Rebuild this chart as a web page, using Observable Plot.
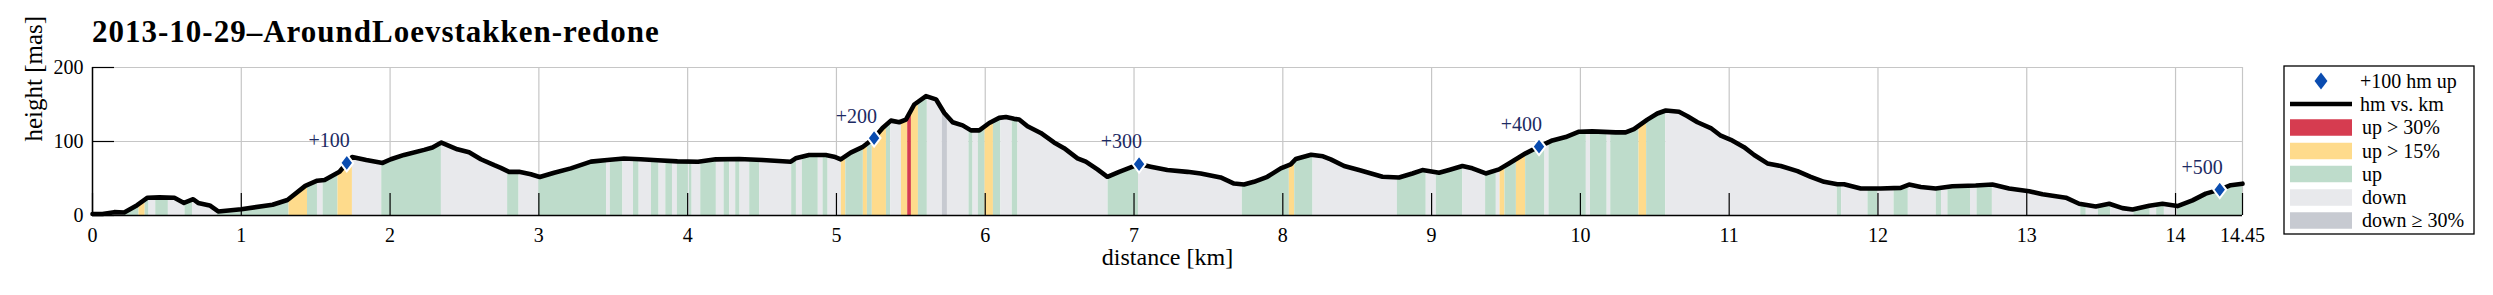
<!DOCTYPE html>
<html>
<head>
<meta charset="utf-8">
<script src="https://cdn.jsdelivr.net/npm/d3@7"></script>
<script src="https://cdn.jsdelivr.net/npm/@observablehq/plot@0.6"></script>
<style>
  html, body { margin: 0; padding: 0; background: white; }
  #wrap { position: relative; width: 2493px; height: 295px; overflow: hidden; }
  #wrap > svg { position: absolute; left: 0; top: 0; }
  #wrap svg text { font-family: "Liberation Serif", "Times New Roman", serif !important; }
</style>
</head>
<body>
<div id="wrap"></div>
<script>
// ---------------- data ----------------
const titleText = "2013-10-29\u2013AroundLoevstakken-redone";
const totalKm = 14.45;

const distKm = [0, 0.067, 0.146, 0.213, 0.30, 0.37, 0.45, 0.55, 0.615, 0.677, 0.71, 0.788, 0.845, 1.0, 1.21, 1.31, 1.43, 1.51, 1.56, 1.66, 1.71, 1.745, 1.84, 1.95,
  2.005, 2.094, 2.229, 2.285, 2.345, 2.452, 2.531, 2.61, 2.70, 2.744, 2.80, 2.867, 2.946, 3.006, 3.103, 3.215, 3.35, 3.46, 3.572, 3.684, 3.797, 3.931,
  4.07, 4.189, 4.346, 4.502, 4.693, 4.726, 4.816, 4.928, 4.984, 5.029, 5.096, 5.174, 5.253, 5.31, 5.366, 5.422, 5.467, 5.523, 5.602, 5.669, 5.725, 5.781, 5.848, 5.904, 5.96,
  6.027, 6.094, 6.139, 6.194, 6.228, 6.284, 6.373, 6.462, 6.53, 6.62, 6.676, 6.754, 6.821, 6.90, 6.978, 7.034, 7.112, 7.224, 7.359, 7.448, 7.582, 7.672, 7.739, 7.806, 7.896, 7.986,
  8.053, 8.087, 8.19, 8.27, 8.322, 8.412, 8.512, 8.67, 8.781, 8.871, 8.938, 9.05, 9.117, 9.207, 9.274, 9.364, 9.453, 9.52, 9.632, 9.722, 9.812, 9.901, 9.991,
  10.08, 10.237, 10.304, 10.36, 10.45, 10.517, 10.574, 10.663, 10.72, 10.787, 10.876, 10.944, 11.011, 11.10, 11.168, 11.257, 11.347, 11.459, 11.548, 11.638, 11.727, 11.772, 11.884,
  12.018, 12.153, 12.209, 12.288, 12.388, 12.50, 12.657, 12.769, 12.881, 13.016, 13.106, 13.263, 13.352, 13.464, 13.554, 13.643, 13.711, 13.823, 13.912,
  14.013, 14.114, 14.203, 14.297, 14.371, 14.45];
const elevM = [2, 2, 4.5, 4, 14, 24, 24.5, 24, 17, 22, 17, 13.6, 5.5, 8.5, 14.5, 21, 40, 47, 48, 59, 71, 79, 75, 71,
  76, 81.9, 88.7, 91.9, 98.6, 89.5, 85.4, 76, 68, 64.4, 59, 59, 55.7, 52, 57.8, 63.7, 72.8, 75, 77, 76, 74.6, 73.2,
  72.7, 75.9, 76.3, 75, 72.7, 77.3, 81.8, 81.8, 79.5, 75.9, 85, 92.3, 104.6, 118.2, 128.2, 126, 129.6, 150, 161.4, 157, 138.6, 126, 121.8, 115, 115,
  125, 131.9, 133.2, 130.6, 129.7, 120.6, 111.5, 98.8, 91, 77.3, 72.8, 62.3, 52.3, 59, 65, 69.5, 66, 61.4, 59, 56.8, 51.4, 43.2, 41.8, 45.5, 52.3, 63.7,
  69.1, 76.4, 82, 80, 75.9, 66.8, 61.4, 52.3, 51.4, 56.8, 61.4, 57.7, 61.4, 66.8, 63.7, 56.8, 62.3, 70.4, 84, 93.2, 101.4, 106, 113.2,
  113.7, 112.3, 112.3, 116.8, 129.6, 137.8, 141.9, 140.1, 134.2, 126, 118.2, 107.8, 102.3, 92.3, 81.8, 70.4, 66.8, 60, 52.3, 45.5, 42.3, 42.3, 36.4,
  36.4, 37.3, 41.8, 38.6, 36.4, 39.6, 40.5, 41.8, 36.4, 32.7, 28.6, 24.1, 15.9, 12.3, 15.9, 10, 8.2, 13.2, 15.9,
  12.7, 20.5, 29.6, 35, 40.9, 43];

// slope-category bands: start km and category (each band ends where the next begins)
const bandStartKm = [0, 0.146, 0.213, 0.313, 0.354, 0.38, 0.425, 0.51, 0.622, 0.672, 0.84, 1.321, 1.445, 1.512, 1.55, 1.65, 1.747, 1.944,
  2.345, 2.79, 2.867, 3.0, 3.455, 3.48, 3.565, 3.636, 3.674, 3.757, 3.808, 3.853, 3.898, 3.931, 4.005, 4.012, 4.03, 4.088, 4.193, 4.245, 4.283,
  4.323, 4.352, 4.417, 4.484, 4.699, 4.731, 4.771, 4.878, 4.91, 4.944, 5.033, 5.063, 5.181, 5.208, 5.241, 5.336, 5.365, 5.437, 5.479, 5.504,
  5.551, 5.611, 5.712, 5.746, 5.891, 5.918, 5.954, 5.999, 6.055, 6.105, 6.182, 6.22, 6.826, 7.03, 7.728, 8.044, 8.08, 8.203, 8.77, 8.964,
  9.032, 9.21, 9.363, 9.435, 9.46, 9.493, 9.57, 9.632, 9.762, 9.789, 10.04, 10.068, 10.18, 10.204, 10.394, 10.445, 10.574, 11.727, 11.756,
  11.933, 12.0, 12.108, 12.204, 12.392, 12.427, 12.47, 12.622, 12.666, 12.769, 13.363, 13.4, 13.482, 13.565, 13.72, 13.83, 13.873, 13.925, 14.013];
const bandCat = ["up", "down", "up", "up15", "up", "down", "up", "down", "up", "down", "up", "up15", "up", "down", "up", "up15", "down", "up",
  "down", "up", "down", "up", "down", "up", "down", "up", "down", "up", "down", "up", "down", "up", "down", "up", "down", "up", "down", "up", "down",
  "up", "down", "up", "down", "up", "down", "up", "down", "up", "down", "up15", "up", "up15", "up", "up15", "up", "down", "up15", "up30", "up15",
  "up", "down", "down30", "down", "up", "down", "up", "up15", "up", "down", "up", "down", "up", "down", "up", "up15", "up", "down", "up", "down",
  "up", "down", "up", "down", "up15", "up", "up15", "up", "down", "up", "down", "up", "down", "up", "up15", "up", "down", "up", "down",
  "up", "down", "up", "down", "up", "down", "up", "down", "up", "down", "up", "down", "up", "down", "up", "down", "up", "down", "up"];

// +100 hm markers
const markerKm = [1.709, 5.253, 7.034, 9.722, 14.297];
const markerElev = [71, 104.6, 69.5, 93.2, 35];
const markerLabel = ["+100", "+200", "+300", "+400", "+500"];

const xTicks = [0, 1, 2, 3, 4, 5, 6, 7, 8, 9, 10, 11, 12, 13, 14, 14.45];
const yTicks = [0, 100, 200];

const catKeys = ["up30", "up15", "up", "down", "down30"];
const catColors = ["#d63c50", "#fedb8c", "#bedccb", "#e8e9ec", "#c7cad1"];
const legendLabels = ["+100 hm up", "hm vs. km", "up > 30%", "up > 15%", "up", "down", "down \u2265 30%"];

// ---------------- tables ----------------
const profile = distKm.map((d, i) => ({d, e: elevM[i]}));
const bands = bandStartKm.map((s, i) => ({s, e: i < bandStartKm.length - 1 ? bandStartKm[i + 1] : totalKm, c: bandCat[i]}));
const markers = markerKm.map((d, i) => ({d, e: markerElev[i], t: markerLabel[i]}));

// ---------------- layout ----------------
const W = 2493, H = 295;
const mL = 92, mR = 251, mT = 67, mB = 80;
const FONT = "Liberation Serif, Times New Roman, serif";
const tickLenPx = 22;
const yPxPerM = (H - mT - mB) / 200;
const xPxPerKm = (W - mL - mR) / totalKm;

const diamond = {
  draw(ctx, size) {
    const r = Math.sqrt(size / Math.PI);
    const h = r * 1.6, w = r * 1.22;
    ctx.moveTo(0, -h); ctx.lineTo(w, 0); ctx.lineTo(0, h); ctx.lineTo(-w, 0); ctx.closePath();
  }
};

const svg = Plot.plot({
  width: W, height: H,
  marginLeft: mL, marginRight: mR, marginTop: mT, marginBottom: mB,
  style: {fontFamily: FONT, fontSize: "20px", background: "white", color: "black", overflow: "visible"},
  x: {domain: [0, totalKm]},
  y: {domain: [0, 200]},
  color: {domain: catKeys, range: catColors},
  marks: [
    Plot.gridX(xTicks, {stroke: "#c6c6c6", strokeOpacity: 1, strokeWidth: 1.2}),
    Plot.gridY(yTicks, {stroke: "#c6c6c6", strokeOpacity: 1, strokeWidth: 1.2}),
    Plot.rectY(bands, {x1: "s", x2: "e", y1: 0, y2: 200, fill: "c"}),
    Plot.areaY(profile, {x: "d", y: "e", fill: "black"}),
    Plot.ruleX(xTicks, {y1: 0, y2: tickLenPx / yPxPerM, stroke: "black", strokeWidth: 1.2}),
    Plot.ruleY(yTicks, {x1: 0, x2: tickLenPx / xPxPerKm, stroke: "black", strokeWidth: 1.2}),
    Plot.ruleY([0], {stroke: "black", strokeWidth: 1.5}),
    Plot.ruleX([0], {stroke: "black", strokeWidth: 1.5}),
    Plot.line(profile, {x: "d", y: "e", stroke: "black", strokeWidth: 4.6, strokeLinejoin: "round", strokeLinecap: "round"}),
    Plot.dot(markers, {x: "d", y: "e", symbol: diamond, r: 5.3, fill: "#0a4cb0", stroke: "white", strokeWidth: 2}),
    Plot.text(markers, {x: "d", y: "e", text: "t", dx: 3, dy: -22, textAnchor: "end", fill: "#1c2a63", fontSize: 20, fontFamily: FONT}),
    Plot.axisX(xTicks, {tickSize: 0, tickPadding: 12, tickFormat: d => String(d), label: null, fontSize: 20, fontFamily: FONT}),
    Plot.axisY(yTicks, {tickSize: 0, tickPadding: 9, label: null, fontSize: 20, fontFamily: FONT}),
    Plot.text(["distance [km]"], {text: d => d, frameAnchor: "bottom", dy: 49, fontSize: 24, fontFamily: FONT}),
    Plot.text(["height [mas]"], {text: d => d, frameAnchor: "left", rotate: -90, dx: -59, fontSize: 25, fontFamily: FONT})
  ]
});
svg.setAttribute("font-family", FONT);
svg.style.fontFamily = FONT;

// turn the profile area into a clip path for the slope bands
(function () {
  const ns = "http://www.w3.org/2000/svg";
  const areaG = svg.querySelector('g[aria-label="area"]');
  const rectG = svg.querySelector('g[aria-label="rect"]');
  if (areaG && rectG) {
    const src = areaG.querySelector("path");
    const defs = document.createElementNS(ns, "defs");
    const cp = document.createElementNS(ns, "clipPath");
    cp.setAttribute("id", "profileClip");
    const p = document.createElementNS(ns, "path");
    p.setAttribute("d", src.getAttribute("d"));
    const tf = areaG.getAttribute("transform");
    if (tf) p.setAttribute("transform", tf);
    cp.appendChild(p);
    defs.appendChild(cp);
    svg.insertBefore(defs, svg.firstChild);
    const wrapG = document.createElementNS(ns, "g");
    wrapG.setAttribute("clip-path", "url(#profileClip)");
    rectG.parentNode.insertBefore(wrapG, rectG);
    wrapG.appendChild(rectG);
    areaG.remove();
  }
})();

document.getElementById("wrap").appendChild(svg);

// ---------------- overlay: title and legend ----------------
const ov = d3.select("#wrap").append("svg")
  .attr("width", W).attr("height", H)
  .attr("font-family", FONT);

ov.append("text")
  .attr("x", 92).attr("y", 41.5)
  .attr("font-size", 31).attr("font-weight", "bold")
  .attr("letter-spacing", 1)
  .text(titleText);

const lg = ov.append("g");
lg.append("rect").attr("x", 2284).attr("y", 66).attr("width", 190).attr("height", 168)
  .attr("fill", "white").attr("stroke", "black").attr("stroke-width", 1.3);
const rowY = [81, 104, 127.5, 151, 174, 197.5, 220.5];
const swX = 2290, swW = 62, swH = 16.5, txX = 2362;
lg.append("path")
  .attr("d", d3.symbol(diamond, Math.PI * 5.3 * 5.3)())
  .attr("transform", `translate(${swX + swW / 2},${rowY[0]})`)
  .attr("fill", "#0a4cb0");
lg.append("line").attr("x1", swX).attr("x2", swX + swW).attr("y1", rowY[1]).attr("y2", rowY[1])
  .attr("stroke", "black").attr("stroke-width", 4.5);
catKeys.forEach((k, i) => {
  lg.append("rect").attr("x", swX).attr("y", rowY[i + 2] - swH / 2).attr("width", swW).attr("height", swH)
    .attr("fill", catColors[i]);
});
legendLabels.forEach((t, i) => {
  lg.append("text").attr("x", i < 2 ? txX - 2 : txX).attr("y", rowY[i]).attr("dy", "0.33em")
    .attr("font-size", 20).text(t);
});
</script>
</body>
</html>
